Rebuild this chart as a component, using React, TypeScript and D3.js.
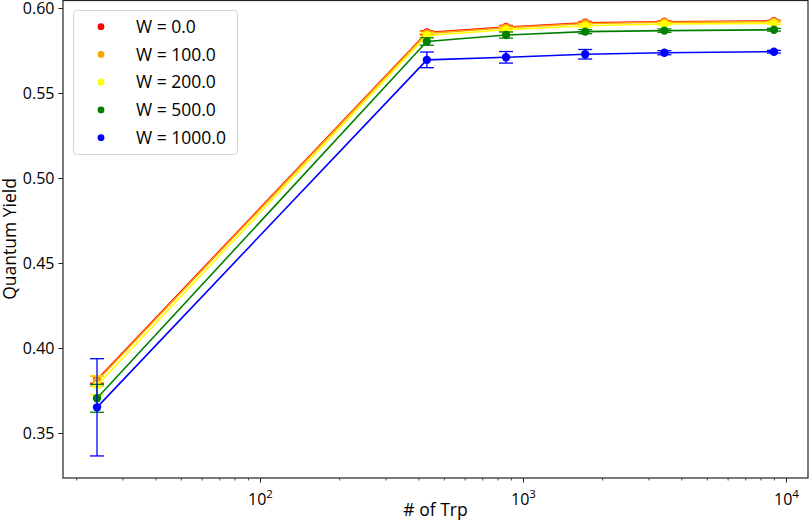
import { useEffect, useRef } from 'react';
import * as d3 from 'd3';

// number of Trp residues (x positions)
const trpCounts = [24, 431, 862, 1724, 3448, 9000];

const seriesLabels = ['W = 0.0', 'W = 100.0', 'W = 200.0', 'W = 500.0', 'W = 1000.0'];
const seriesColors = ['#ff0000', '#ffa500', '#ffff00', '#008000', '#0000ff'];

const yieldW0 = [0.3813, 0.5856, 0.5888, 0.5913, 0.5919, 0.5923];
const yieldW100 = [0.3806, 0.5851, 0.5884, 0.5909, 0.5916, 0.5920];
const yieldW200 = [0.3780, 0.5838, 0.5872, 0.5896, 0.5906, 0.5910];
const yieldW500 = [0.3704, 0.5803, 0.5841, 0.5861, 0.5867, 0.5872];
const yieldW1000 = [0.3651, 0.5695, 0.5710, 0.5728, 0.5737, 0.5743];

const errW0 = [0.002, 0.001, 0.001, 0.0008, 0.0006, 0.0005];
const errW100 = [0.003, 0.0012, 0.001, 0.0008, 0.0006, 0.0005];
const errW200 = [0.0055, 0.0015, 0.0012, 0.001, 0.0008, 0.0006];
const errW500 = [0.0082, 0.0022, 0.0018, 0.0012, 0.001, 0.0008];
const errW1000 = [0.0286, 0.0046, 0.0034, 0.0028, 0.0012, 0.0008];

const yieldSeries = [yieldW0, yieldW100, yieldW200, yieldW500, yieldW1000];
const errSeries = [errW0, errW100, errW200, errW500, errW1000];

const yTicks = [0.35, 0.4, 0.45, 0.5, 0.55, 0.6];
const xMajorTicks = [100, 1000, 10000];

const WIDTH = 809;
const HEIGHT = 524;
const FONT = '"Open Sans", "DejaVu Sans", sans-serif';

const App = () => {
  const svgRef = useRef<SVGSVGElement>(null);

  useEffect(() => {
    if (!svgRef.current) return;
    const svg = d3.select(svgRef.current);
    svg.selectAll('*').remove();

    // plot area in pixels
    const left = 63, right = 808, top = 0, bottom = 478;

    const x = d3.scaleLog().domain([17.82, 12126]).range([left, right]);
    const y = d3.scaleLinear().domain([0.32353, 0.60471]).range([bottom, top]);

    // minor ticks for the log axis
    const xMinor: number[] = [];
    [10, 100, 1000, 10000].forEach(dec => {
      for (let k = 2; k <= 9; k++) {
        const v = dec * k;
        if (v > x.domain()[0] && v < x.domain()[1]) xMinor.push(v);
      }
    });

    // x axis
    const xAxisMinor = d3.axisBottom(x).tickValues(xMinor).tickSize(2.5).tickFormat(() => '');
    const gMinor = svg.append('g').attr('transform', `translate(0,${bottom})`).call(xAxisMinor);
    gMinor.select('.domain').remove();
    gMinor.selectAll('line').attr('stroke', '#000').attr('stroke-width', 0.7);

    const xAxis = d3.axisBottom(x).tickValues(xMajorTicks).tickSize(4.5).tickFormat(() => '');
    const gx = svg.append('g').attr('transform', `translate(0,${bottom})`).call(xAxis);
    gx.select('.domain').remove();
    gx.selectAll('line').attr('stroke', '#000').attr('stroke-width', 0.9);
    gx.selectAll<SVGGElement, number>('.tick').each(function (d) {
      const t = d3.select(this).append('text')
        .attr('y', 27)
        .attr('fill', '#000')
        .attr('text-anchor', 'middle')
        .style('font-family', FONT)
        .style('font-size', '16px');
      t.append('tspan').text('10');
      t.append('tspan').attr('dy', -7).style('font-size', '11.5px').text(String(Math.round(Math.log10(d))));
    });

    // y axis
    const yAxis = d3.axisLeft(y).tickValues(yTicks).tickSize(4.5).tickPadding(4).tickFormat(d3.format('.2f'));
    const gy = svg.append('g').attr('transform', `translate(${left},0)`).call(yAxis);
    gy.select('.domain').remove();
    gy.selectAll('line').attr('stroke', '#000').attr('stroke-width', 0.9);
    gy.selectAll('text')
      .attr('fill', '#000')
      .style('font-family', FONT)
      .style('font-size', '16px');

    // frame
    svg.append('rect')
      .attr('x', left).attr('y', top + 0.5)
      .attr('width', right - left).attr('height', bottom - top - 0.5)
      .attr('fill', 'none')
      .attr('stroke', '#222')
      .attr('stroke-width', 1.2);

    // series: line, error bars, markers
    const line = d3.line<number>()
      .x((_, i) => x(trpCounts[i]))
      .y(d => y(d));
    const capHalf = 7;

    yieldSeries.forEach((vals, s) => {
      const color = seriesColors[s];
      const errs = errSeries[s];
      const g = svg.append('g');

      g.append('path')
        .datum(vals)
        .attr('d', line)
        .attr('fill', 'none')
        .attr('stroke', color)
        .attr('stroke-width', 1.6);

      const eb = g.selectAll('.eb')
        .data(vals.map((v, i) => ({ v, e: errs[i], t: trpCounts[i] })))
        .enter()
        .append('g');
      eb.append('line')
        .attr('x1', d => x(d.t)).attr('x2', d => x(d.t))
        .attr('y1', d => y(d.v - d.e)).attr('y2', d => y(d.v + d.e))
        .attr('stroke', color).attr('stroke-width', 1.3);
      [-1, 1].forEach(sign => {
        eb.append('line')
          .attr('x1', d => x(d.t) - capHalf).attr('x2', d => x(d.t) + capHalf)
          .attr('y1', d => y(d.v + sign * d.e)).attr('y2', d => y(d.v + sign * d.e))
          .attr('stroke', color).attr('stroke-width', 1.3);
      });

      g.selectAll('.pt')
        .data(vals)
        .enter()
        .append('circle')
        .attr('cx', (_, i) => x(trpCounts[i]))
        .attr('cy', d => y(d))
        .attr('r', 4.2)
        .attr('fill', color);
    });

    // legend
    const lg = svg.append('g');
    lg.append('rect')
      .attr('x', 73.5).attr('y', 10.5)
      .attr('width', 164).attr('height', 144)
      .attr('rx', 3)
      .attr('fill', 'rgba(255,255,255,0.85)')
      .attr('stroke', '#d4d4d4')
      .attr('stroke-width', 1);
    seriesLabels.forEach((label, i) => {
      const cy = 26.7 + i * 27.75;
      lg.append('circle')
        .attr('cx', 101).attr('cy', cy).attr('r', 3.4)
        .attr('fill', seriesColors[i]);
      lg.append('text')
        .attr('x', 136).attr('y', cy)
        .attr('dy', '0.35em')
        .attr('fill', '#000')
        .style('font-family', FONT)
        .style('font-size', '17.5px')
        .text(label);
    });

    // axis labels
    svg.append('text')
      .attr('x', (left + right) / 2)
      .attr('y', 516)
      .attr('text-anchor', 'middle')
      .attr('fill', '#000')
      .style('font-family', FONT)
      .style('font-size', '17.5px')
      .text('# of Trp');

    svg.append('text')
      .attr('transform', `translate(16,${(top + bottom) / 2}) rotate(-90)`)
      .attr('text-anchor', 'middle')
      .attr('fill', '#000')
      .style('font-family', FONT)
      .style('font-size', '17.5px')
      .text('Quantum Yield');
  }, []);

  return (
    <svg
      ref={svgRef}
      width={WIDTH}
      height={HEIGHT}
      style={{ position: 'absolute', left: 0, top: 0, background: '#fff' }}
    />
  );
};

export default App;
